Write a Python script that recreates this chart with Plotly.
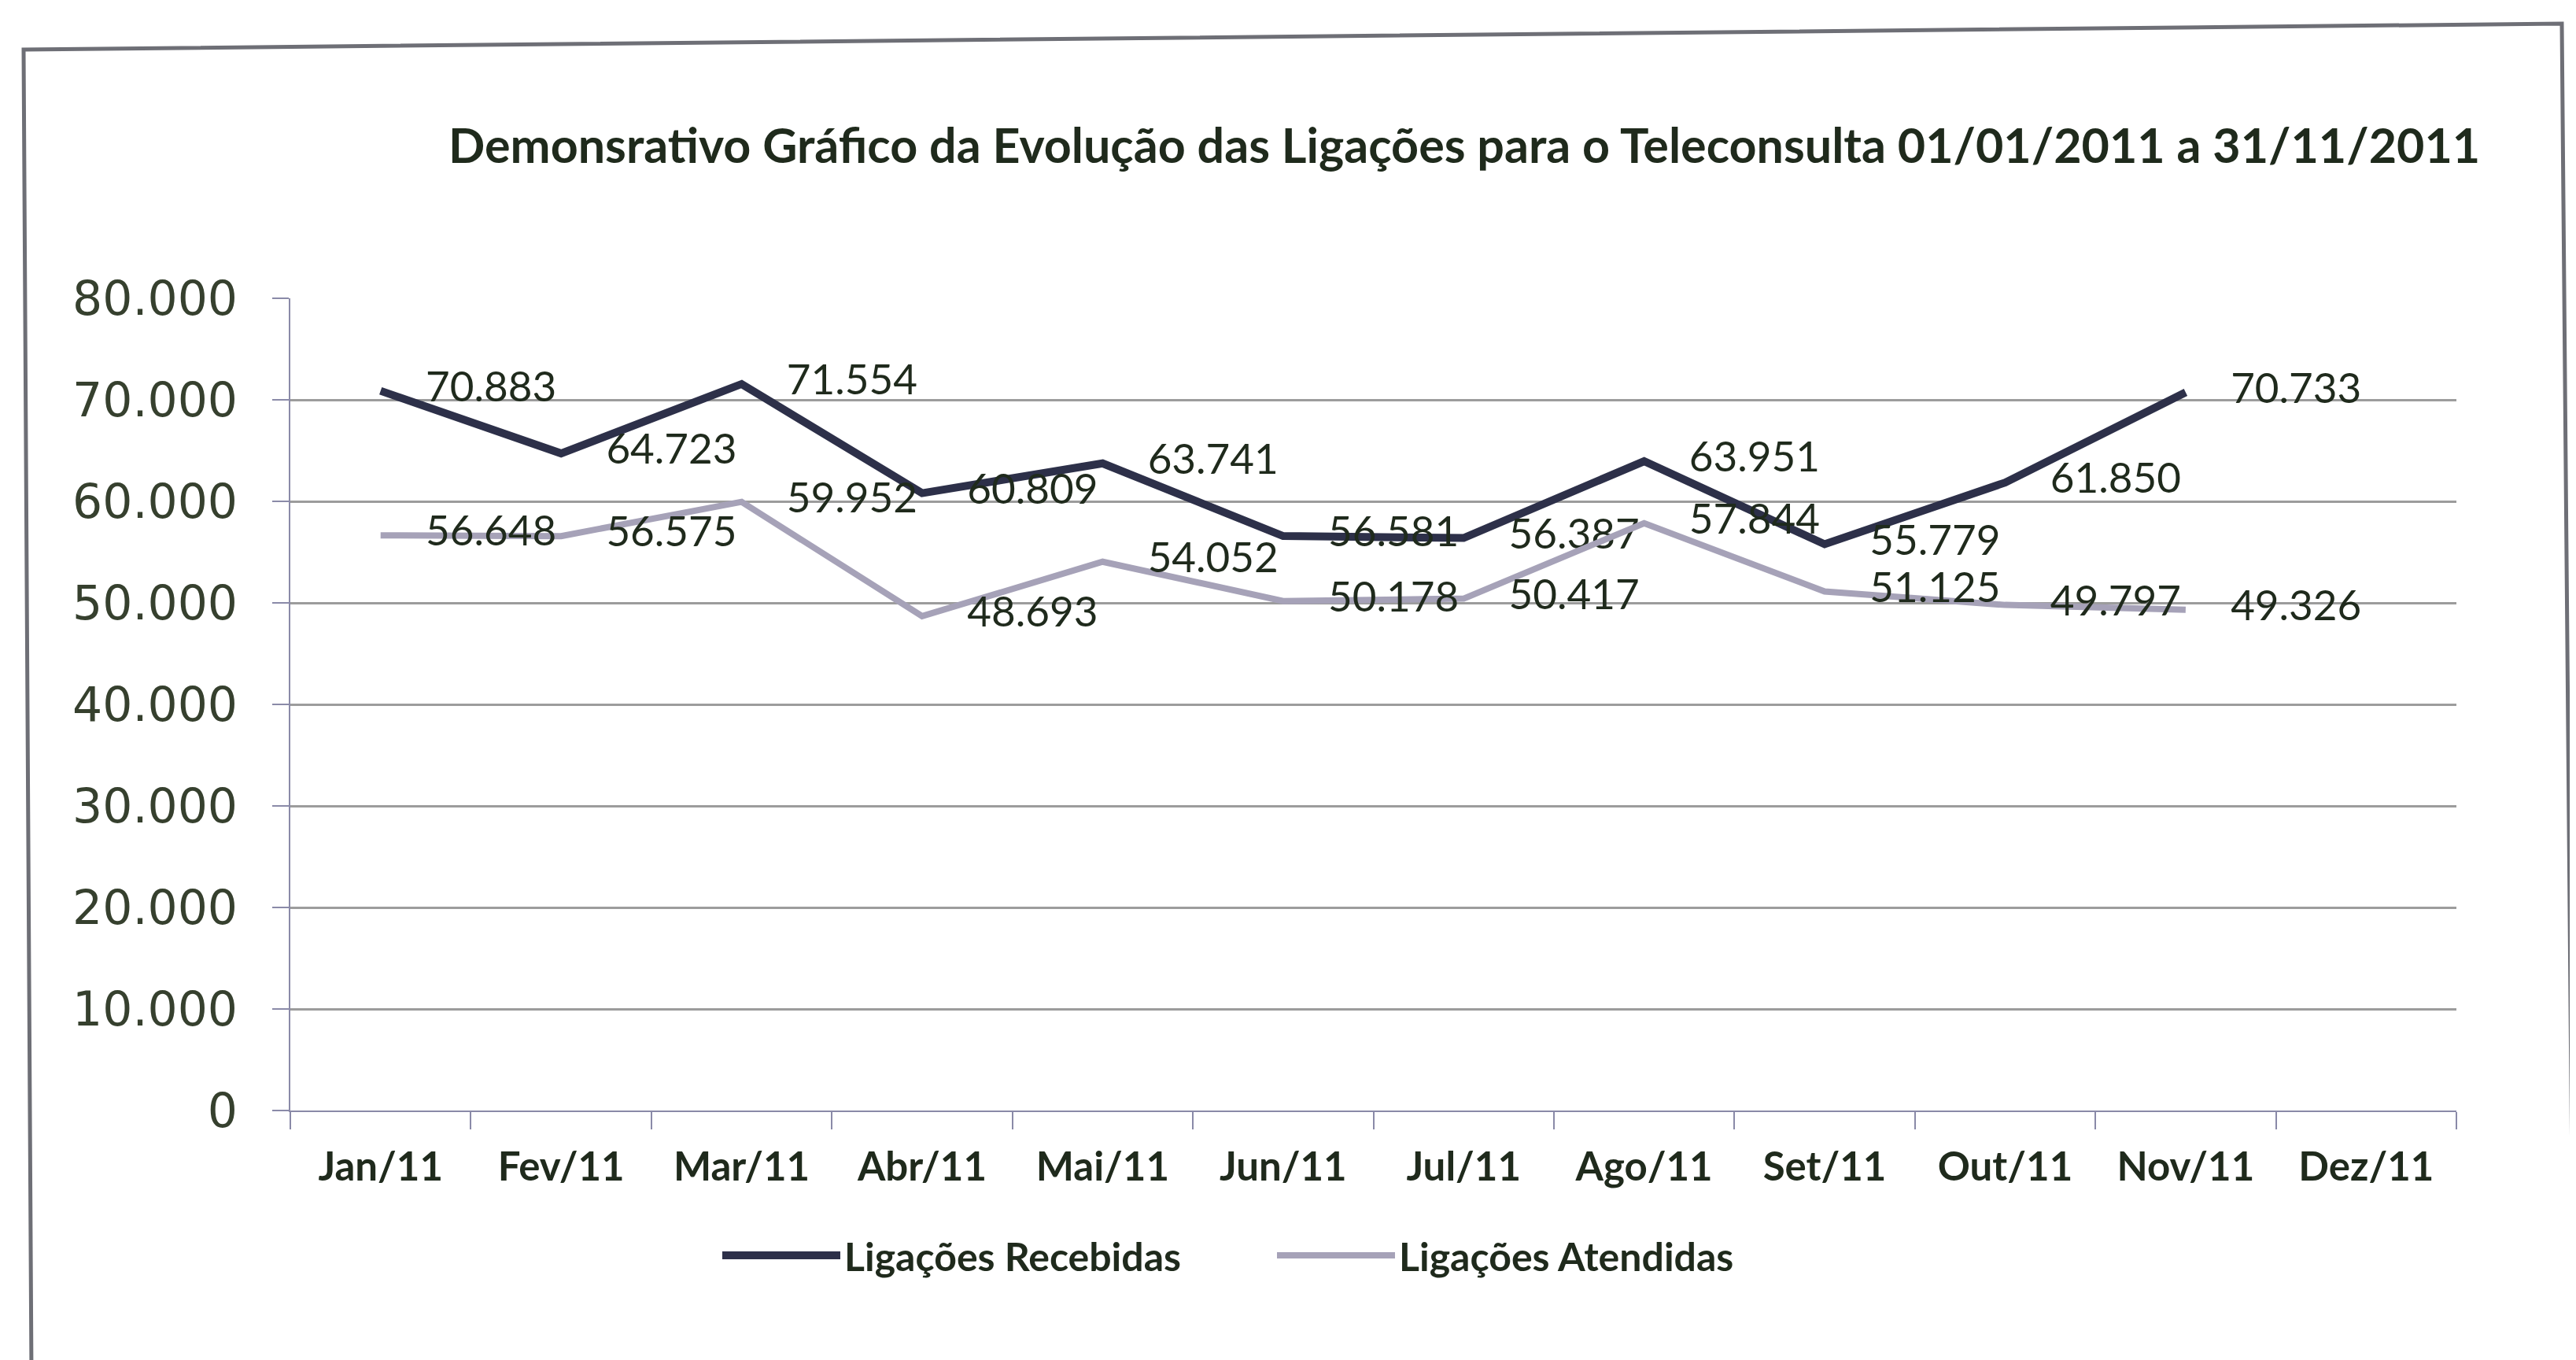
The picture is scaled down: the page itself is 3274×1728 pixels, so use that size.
import plotly.graph_objects as go

categories = ["Jan/11", "Fev/11", "Mar/11", "Abr/11", "Mai/11", "Jun/11",
              "Jul/11", "Ago/11", "Set/11", "Out/11", "Nov/11", "Dez/11"]
recebidas = [70883, 64723, 71554, 60809, 63741, 56581, 56387, 63951, 55779, 61850, 70733, None]
atendidas = [56648, 56575, 59952, 48693, 54052, 50178, 50417, 57844, 51125, 49797, 49326, None]
y_ticks = [0, 10000, 20000, 30000, 40000, 50000, 60000, 70000, 80000]
y_tick_labels = ["0", "10.000", "20.000", "30.000", "40.000", "50.000", "60.000", "70.000", "80.000"]

W, H = 3274, 1728
L, R, T, B = 361, 160, 371, 325

def fmt(v):
    return "" if v is None else f"{v:,}".replace(",", ".")

TEXT = "#1f2a1c"
fig = go.Figure()
series = [("Ligações Recebidas", recebidas, "#2d3049", 10),
          ("Ligações Atendidas", atendidas, "#a6a2b8", 8)]
for name, vals, color, w in series:
    fig.add_trace(go.Scatter(
        x=categories, y=vals, name=name, mode="lines+markers+text",
        line=dict(color=color, width=w),
        marker=dict(size=90, color="rgba(0,0,0,0)"),
        text=[fmt(v) for v in vals], textposition="middle right",
        textfont=dict(family="Lato", size=53, color=TEXT),
        cliponaxis=False, connectgaps=False,
    ))

px_x = lambda p: (p - L) / (W - L - R)
px_y = lambda p: (H - B - p) / (H - T - B)

fig.add_shape(type="path", xref="paper", yref="paper",
              path=f"M {px_x(32)} {px_y(1740)} L {px_x(22)} {px_y(55)} L {px_x(3248)} {px_y(22)} L {px_x(3263)} {px_y(1717)}",
              line=dict(color="#6e6f76", width=5), layer="below")

fig.update_layout(
    width=W, height=H,
    margin=dict(l=L, r=R, t=T, b=B),
    paper_bgcolor="#ffffff", plot_bgcolor="#ffffff",
    title=dict(text="<b>Demonsrativo Gráfico da Evolução das Ligações para o Teleconsulta 01/01/2011 a 31/11/2011</b>",
               x=0.566, xanchor="center", y=1 - 178 / H, yanchor="middle",
               font=dict(family="Lato", size=61, color=TEXT)),
    showlegend=True,
    legend=dict(orientation="h", x=px_x(905), xanchor="left", y=px_y(1587), yanchor="middle",
                font=dict(family="Lato", size=50, color=TEXT, weight="bold"), bgcolor="rgba(0,0,0,0)",
                itemwidth=150, entrywidth=540, entrywidthmode="pixels", tracegroupgap=0),
    xaxis=dict(type="category", categoryorder="array", categoryarray=categories,
               range=[-0.5, 11.5], showgrid=False, showline=True, linecolor="#8a8aa8", linewidth=2,
               ticks="outside", tickson="boundaries", ticklen=22, tickcolor="#8a8aa8", tickwidth=2,
               ticklabelstandoff=26,
               tickfont=dict(family="Lato", size=51, color=TEXT, weight="bold")),
    yaxis=dict(range=[0, 80000], tickvals=y_ticks, ticktext=y_tick_labels,
               showgrid=True, gridcolor="#9c9c9c", gridwidth=3,
               showline=True, linecolor="#8a8aa8", linewidth=2,
               ticks="outside", ticklen=21, tickcolor="#8a8aa8", tickwidth=2,
               ticklabelstandoff=32,
               tickfont=dict(family="DejaVu Sans", size=60, color="#36402e"),
               zeroline=False),
)
fig.write_html("out.html")
